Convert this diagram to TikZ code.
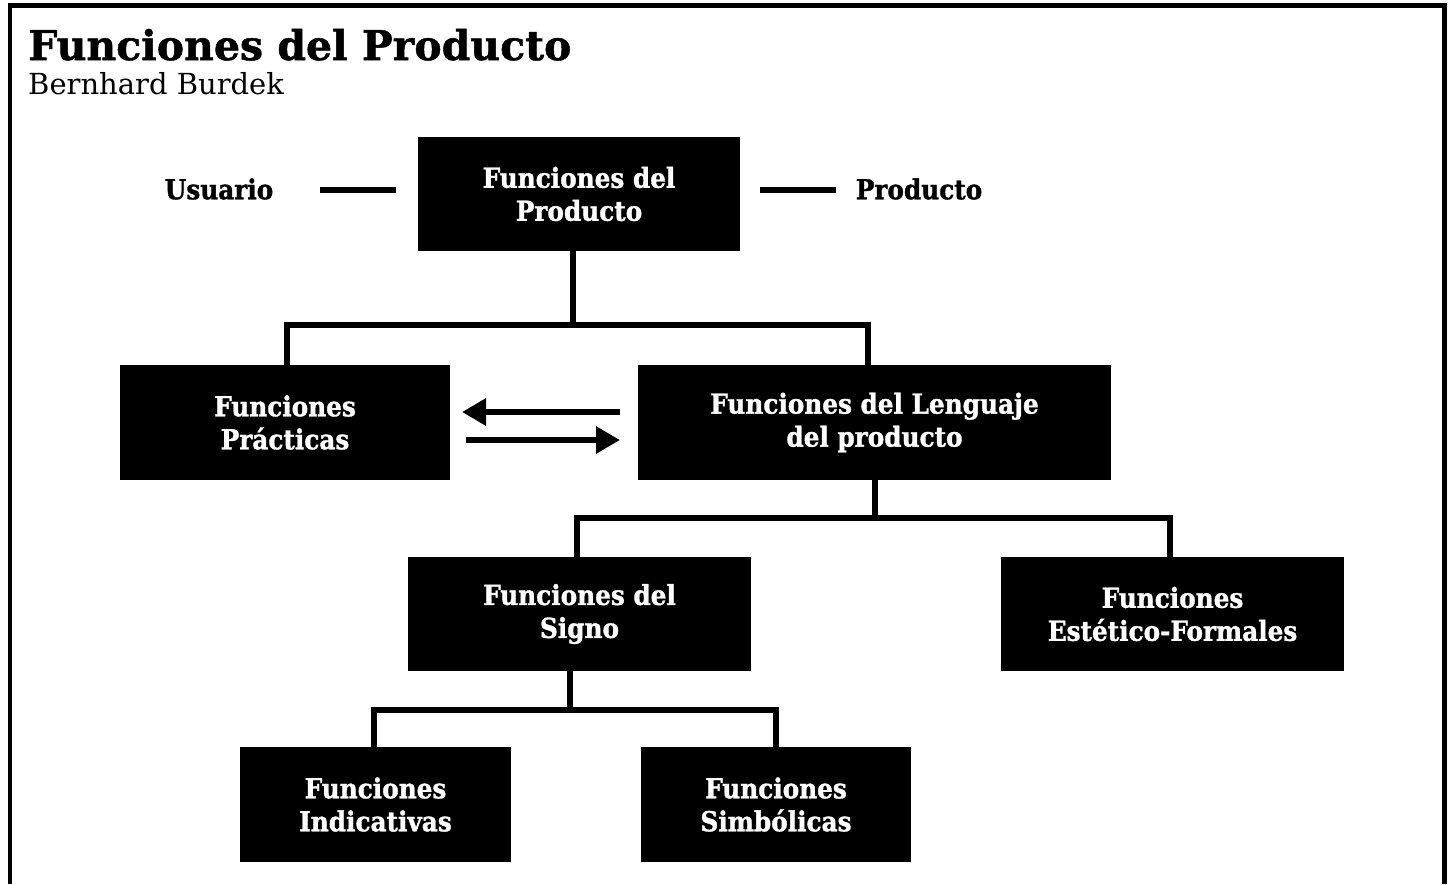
\documentclass[tikz,border=0pt]{standalone}
\usepackage{fontspec}
\setmainfont{DejaVu Serif}[BoldFeatures={FakeBold=1.2}]
\newfontfamily\boxfont{DejaVu Serif Condensed}[BoldFont={DejaVu Serif Condensed Bold},BoldFeatures={FakeBold=1.2}]
\newfontfamily\subfont{DejaVu Serif}
\usetikzlibrary{arrows.meta}
\begin{document}
\begin{tikzpicture}[x=1pt,y=-1pt,
  fbox/.style={fill=black,text=white,inner sep=0pt,align=center,
    font=\boxfont\bfseries\fontsize{27.5}{33}\selectfont},
  conn/.style={line width=6pt},
  sidelabel/.style={font=\boxfont\bfseries\fontsize{27.5}{30}\selectfont,inner sep=0pt},
  arr/.style={line width=6pt,-{Triangle[length=24pt,width=26pt]}}]
\useasboundingbox (0,0) rectangle (1448,884);
% frame (no bottom edge)
\draw[line width=4.5pt] (10,884) -- (10,5.5) -- (1444.5,5.5) -- (1444.5,884);
% titles
\node[anchor=base west,inner sep=0pt,font=\bfseries\fontsize{41}{43}\selectfont] (title) at (28,60) {Funciones del Producto};
\node[anchor=base west,inner sep=0pt,font=\subfont\fontsize{29}{31}\selectfont] (author) at (28,94) {Bernhard Burdek};
% boxes
\node[fbox,minimum width=322pt,minimum height=114pt] (fp) at (579,194) {Funciones del\\Producto};
\node[fbox,minimum width=330pt,minimum height=115pt] (prac) at (285,422.5) {Funciones\\Prácticas};
\node[fbox,minimum width=473pt,minimum height=115pt] (leng) at (874.5,422.5) {Funciones del Lenguaje\\del producto};
\node[fbox,minimum width=343pt,minimum height=114pt] (signo) at (579.5,614) {Funciones del\\Signo};
\node[fbox,minimum width=343pt,minimum height=114pt] (este) at (1172.5,614) {Funciones\\Estético-Formales};
\node[fbox,minimum width=271pt,minimum height=115pt] (ind) at (375.5,804.5) {Funciones\\Indicativas};
\node[fbox,minimum width=270pt,minimum height=115pt] (sim) at (776,804.5) {Funciones\\Simbólicas};
% side labels
\node[sidelabel] (usu) at (219,189) {Usuario};
\node[sidelabel] (prod) at (919,189) {Producto};
\coordinate (ul1) at (320,190); \coordinate (ul2) at (396,190);
\coordinate (pl1) at (760,190); \coordinate (pl2) at (836,190);
\draw[conn] (ul1) -- (ul2);
\draw[conn] (pl1) -- (pl2);
% tree connectors
\draw[conn] (fp.south -| 573,0) -- (573,325);
\draw[conn] (prac.north -| 287,0) -- (287,325) -- (868,325) -- (leng.north -| 868,0);
\draw[conn] (leng.south -| 875,0) -- (875,518);
\draw[conn] (signo.north -| 577,0) -- (577,518) -- (1170,518) -- (este.north -| 1170,0);
\draw[conn] (signo.south -| 570,0) -- (570,710);
\draw[conn] (ind.north -| 374,0) -- (374,710) -- (776,710) -- (sim.north -| 776,0);
% arrows
\coordinate (a1s) at (620,412); \coordinate (a1e) at (462,412);
\coordinate (a2s) at (466,440); \coordinate (a2e) at (620,440);
\draw[arr] (a1s) -- (a1e);
\draw[arr] (a2s) -- (a2e);
\end{tikzpicture}
\end{document}
